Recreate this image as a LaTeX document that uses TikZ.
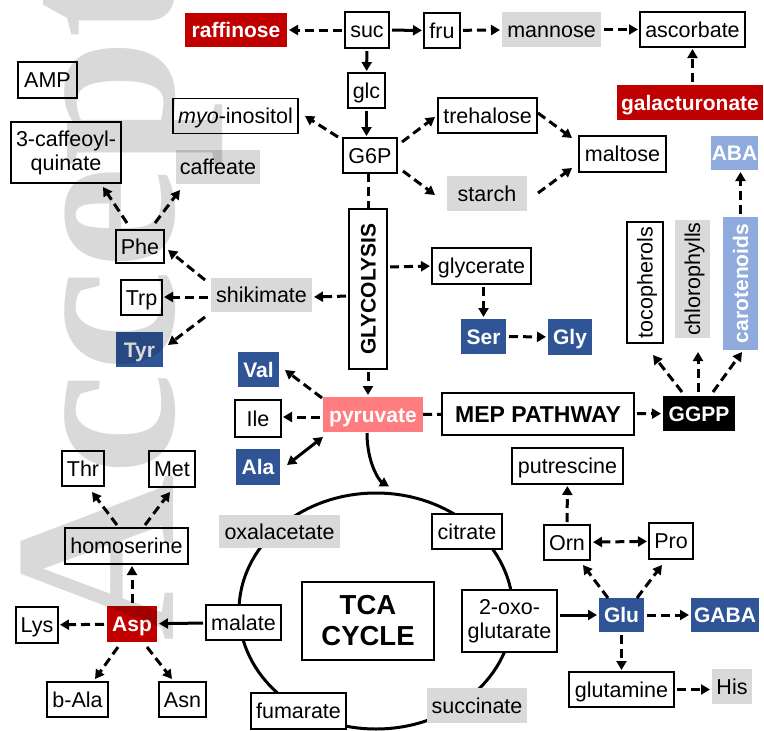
\documentclass[tikz,border=0pt]{standalone}
\usepackage{fontspec}
\setmainfont{Liberation Sans}
\newfontfamily\wmfont{Liberation Serif}
\usetikzlibrary{arrows.meta,calc,shapes.geometric}
\definecolor{myred}{RGB}{192,0,0}
\definecolor{myblue}{RGB}{47,85,151}
\definecolor{mylblue}{RGB}{143,170,220}
\definecolor{mygray}{RGB}{217,217,217}
\definecolor{mypink}{RGB}{255,124,128}
\newcommand{\fsr}{\fontsize{21.5}{24}\selectfont}
\newcommand{\fsb}{\fontsize{21}{24}\selectfont\bfseries}
\newcommand{\fsmep}{\fontsize{23}{26}\selectfont\bfseries}
\newcommand{\fstca}{\fontsize{27.5}{31}\selectfont\bfseries}
\tikzset{
  box/.style={inner sep=0pt, outer sep=0pt, text height=15pt, text depth=0pt, font=\fsr},
  wbox/.style={box, draw=black, line width=1.6pt, fill=white},
  gbox/.style={box, fill=mygray},
  rbox/.style={box, fill=myred, text=white, font=\fsb},
  bbox/.style={box, fill=myblue, text=white, font=\fsb},
  lbbox/.style={box, fill=mylblue, text=white, font=\fsb},
  pbox/.style={box, fill=mypink, text=white, font=\fsb},
  kbox/.style={box, fill=black, text=white, font=\fsb},
  mbox/.style={text height={}, text depth={}, align=center},
  sz/.style 2 args={minimum width=#1pt, minimum height=#2pt},
  conn/.style={line width=3pt},
  tip/.tip={Triangle[length=9pt,width=10pt]},
  dar/.style={conn, dash pattern=on 9pt off 5pt, -tip},
  ddar/.style={conn, dash pattern=on 9pt off 5pt, tip-tip},
  dline/.style={conn, dash pattern=on 9pt off 5pt},
  sar/.style={conn, -tip},
  sdar/.style={conn, tip-tip},
  gap/.style={shorten <=3pt, shorten >=2pt}
}
\begin{document}
\begin{tikzpicture}[x=1pt,y=-1pt]
\fill[white] (0,0) rectangle (764,731);
\useasboundingbox (0,0) rectangle (764,731);

% TCA cycle ring
\node[draw, ellipse, line width=3pt, minimum width=274pt, minimum height=236pt, inner sep=0pt] (cycle) at (376,611) {};

% nodes
\node[rbox, sz={102}{34}] (raffinose) at (236,30) {raffinose};
\node[wbox, sz={44}{36}] (suc) at (367,30) {suc};
\node[wbox, sz={36}{35}] (fru) at (442,30.5) {fru};
\node[gbox, sz={99}{35}] (mannose) at (551.5,29.5) {mannose};
\node[wbox, sz={105}{35}] (ascorbate) at (692.5,29.5) {ascorbate};
\node[rbox, sz={146}{35}] (galact) at (690,102.5) {galacturonate};
\node[wbox, sz={59}{36}] (AMP) at (47.5,80) {AMP};
\node[wbox, sz={37}{35}] (glc) at (366.5,90.5) {glc};
\node[wbox, sz={125}{35}] (myo) at (235.5,116) {\textit{myo}-inositol};
\node[wbox, sz={99}{35}] (trehalose) at (487.5,115.5) {trehalose};
\node[wbox, sz={54}{35}] (G6P) at (370,155.5) {G6P};
\node[wbox, sz={87}{36}] (maltose) at (622.5,154) {maltose};
\node[lbbox, sz={47}{34}] (ABA) at (734.5,153) {ABA};
\node[wbox, sz={110}{61}, mbox] (caffq) at (66,152.5) {3-caffeoyl-\\quinate};
\node[gbox, sz={84}{34}] (caffeate) at (218,167) {caffeate};
\node[gbox, sz={80}{35}] (starch) at (487,193.5) {starch};
\node[wbox, sz={160}{38}, rotate=90, font=\fsb] (GLY) at (368,289) {GLYCOLYSIS};
\node[wbox, sz={99}{36}] (glycerate) at (481.5,266) {glycerate};
\node[gbox, sz={101}{34}] (shikimate) at (261.5,295) {shikimate};
\node[wbox, sz={48}{33}] (Phe) at (140,246.5) {Phe};
\node[wbox, sz={41}{35}] (Trp) at (141.5,297.5) {Trp};
\node[bbox, sz={47}{35}] (Tyr) at (139.5,349.5) {Tyr};
\node[bbox, sz={45}{35}] (Ser) at (483.5,336.5) {Ser};
\node[bbox, sz={44}{36}] (Gly) at (570,337) {Gly};
\node[wbox, sz={121}{36}, rotate=90] (toco) at (645,282.5) {tocopherols};
\node[gbox, sz={118}{35}, rotate=90] (chloro) at (692.5,279) {chlorophylls};
\node[lbbox, sz={133}{35}, rotate=90] (carot) at (740.5,283.5) {carotenoids};
\node[bbox, sz={41}{35}] (Val) at (258.5,369.5) {Val};
\node[wbox, sz={46}{37}] (Ile) at (258,418.5) {Ile};
\node[bbox, sz={44}{36}] (Ala) at (258,467) {Ala};
\node[pbox, sz={100}{35}] (pyruvate) at (373,414.5) {pyruvate};
\node[wbox, sz={192}{42}, font=\fsmep, text height=16pt] (MEP) at (538,414) {MEP PATHWAY};
\node[kbox, sz={72}{35}] (GGPP) at (699,413.5) {GGPP};
\node[wbox, sz={111}{36}] (putrescine) at (567.5,466) {putrescine};
\node[wbox, sz={42}{35}] (Thr) at (83,468.5) {Thr};
\node[wbox, sz={46}{36}] (Met) at (172,469) {Met};
\node[wbox, sz={123}{36}] (homoserine) at (126.5,546) {homoserine};
\node[rbox, sz={50}{36}] (Asp) at (132,624) {Asp};
\node[wbox, sz={42}{36}] (Lys) at (37,625) {Lys};
\node[wbox, sz={61}{35}] (bAla) at (77.5,699.5) {b-Ala};
\node[wbox, sz={47}{35}] (Asn) at (182.5,699.5) {Asn};
\node[wbox, sz={75}{35}] (malate) at (243.5,622.5) {malate};
\node[gbox, sz={121}{33}] (oxal) at (279.5,531.5) {oxalacetate};
\node[wbox, sz={95}{36}] (fumarate) at (298.5,711) {fumarate};
\node[wbox, sz={132}{78}, font=\fstca, mbox] (TCA) at (368,621) {TCA\\CYCLE};
\node[wbox, sz={70}{35}] (citrate) at (467,531.5) {citrate};
\node[wbox, sz={95}{62}, mbox] (oxo) at (509.5,621) {2-oxo-\\glutarate};
\node[gbox, sz={100}{35}] (succinate) at (477,705.5) {succinate};
\node[wbox, sz={46}{35}] (Orn) at (567,542.5) {Orn};
\node[wbox, sz={44}{36}] (Pro) at (671,541) {Pro};
\node[bbox, sz={45}{34}] (Glu) at (621.5,615) {Glu};
\node[bbox, sz={68}{34}] (GABA) at (725,615) {GABA};
\node[wbox, sz={105}{35}] (glutamine) at (621.5,689.5) {glutamine};
\node[gbox, sz={40}{35}] (His) at (732,686.5) {His};

% aligned connectors
\draw[dar, gap] (suc) -- (raffinose);
\draw[sar, gap] (suc) -- (fru);
\draw[dar, gap] (fru) -- (mannose);
\draw[dar, gap] (mannose) -- (ascorbate);
\draw[dar, gap] (galact.north -| ascorbate) -- (ascorbate.south);
\draw[sar, gap] (suc) -- (glc);
\draw[sar, gap] (glc.south) -- (glc.south |- G6P.north);
\draw[dline] (G6P.south -| GLY) -- (GLY.east);
\draw[dar, gap] ($(GLY.north)+(0,7)$) -- ($(shikimate.east)+(0,2)$);
\draw[dar, gap] ($(GLY.south)+(0,-22)$) -- (glycerate.west);
\draw[dar, gap] (GLY.west) -- (GLY.west |- pyruvate.north);
\draw[dar, gap] (Ser.north |- glycerate.south) -- (Ser.north);
\draw[dar, gap] (Ser) -- (Gly);
\draw[dline] (pyruvate) -- (MEP);
\draw[dar, gap] (MEP) -- (GGPP);
\draw[dar, gap] (carot.east) -- (carot.east |- ABA.south);
\draw[ddar, gap] (Orn) -- (Pro);
\draw[dar, gap] (Orn) -- (putrescine);
\draw[sar, gap] (oxo.east |- Glu) -- (Glu.west);
\draw[dar, gap] (Glu) -- (GABA);
\draw[dar, gap] (Glu) -- (glutamine);
\draw[dar, gap] (glutamine.east) -- (glutamine.east -| His.west);
\draw[sar, gap] (malate) -- (Asp);
\draw[dar, gap] (Asp) -- (Lys);
\draw[dar, gap] (Asp.north) -- (Asp.north |- homoserine.south);
\draw[dar, gap] ($(pyruvate.west)+(0,2.5)$) -- ($(Ile.east)+(0,-1.5)$);
\draw[dar, gap] ($(shikimate.west)+(0,2)$) -- ($(Trp.east)+(0,-0.5)$);

% diagonal connectors
\draw[dar] ($(G6P)+(-32,-18.5)$) -- ($(myo)+(69.5,0)$);
\draw[dar] ($(G6P)+(32,-13.5)$) -- ($(trehalose)+(-52.5,1.5)$);
\draw[dar] ($(G6P)+(33,15.5)$) -- ($(starch)+(-52,1.5)$);
\draw[dar] ($(trehalose)+(50.5,-2.5)$) -- ($(maltose)+(-50.5,-16)$);
\draw[dar] ($(starch)+(51,-0.5)$) -- ($(maltose)+(-50.5,14)$);
\draw[dar] ($(shikimate)+(-56.5,-15)$) -- ($(Phe)+(28,3.5)$);
\draw[dar] ($(shikimate)+(-56.5,22)$) -- ($(Tyr)+(28.5,-4.5)$);
\draw[dar] ($(Phe)+(-13,-23.5)$) -- ($(caffq)+(37,34.5)$);
\draw[dar] ($(Phe)+(15,-23.5)$) -- ($(caffeate)+(-38,23)$);
\draw[dar] ($(pyruvate)+(-51,-16.5)$) -- ($(Val)+(26.5,0.5)$);
\draw[sdar] ($(pyruvate)+(-50,22.5)$) -- ($(Ala)+(29,-2)$);
\draw[dar] ($(GGPP)+(-17,-21.5)$) -- ($(toco)+(8,72.5)$);
\draw[dar] ($(GGPP)+(-1,-21.5)$) -- ($(chloro)+(5.5,73)$);
\draw[dar] ($(GGPP)+(14,-21.5)$) -- ($(carot)+(1.5,68.5)$);
\draw[dar] ($(homoserine)+(-9.5,-21)$) -- ($(Thr)+(9,23.5)$);
\draw[dar] ($(homoserine)+(18.5,-21)$) -- ($(Met)+(-2,23)$);
\draw[dar] ($(Asp)+(-14,23)$) -- ($(bAla)+(17.5,-20.5)$);
\draw[dar] ($(Asp)+(15,23)$) -- ($(Asn)+(-10.5,-20.5)$);
\draw[dar] ($(Glu)+(-13.5,-17)$) -- ($(Orn)+(16,22.5)$);
\draw[dar] ($(Glu)+(15.5,-17)$) -- ($(Pro)+(-9,24)$);

% pyruvate into TCA cycle
\draw[sar] ($(pyruvate)+(-6,18.5)$) .. controls ($(pyruvate)+(-6,48)$) and ($(pyruvate)+(6,66)$) .. ($(cycle.north)+(13,-5)$);

% watermark
\begin{scope}
\clip (0,0) rectangle (764,731);
\node[rotate=90, anchor=base west, inner sep=0pt, font={\wmfont\bfseries\fontsize{231}{231}\selectfont}, text=black, text opacity=0.15] (wm) at (173,642) {Accepted};
\end{scope}
\end{tikzpicture}
\end{document}
